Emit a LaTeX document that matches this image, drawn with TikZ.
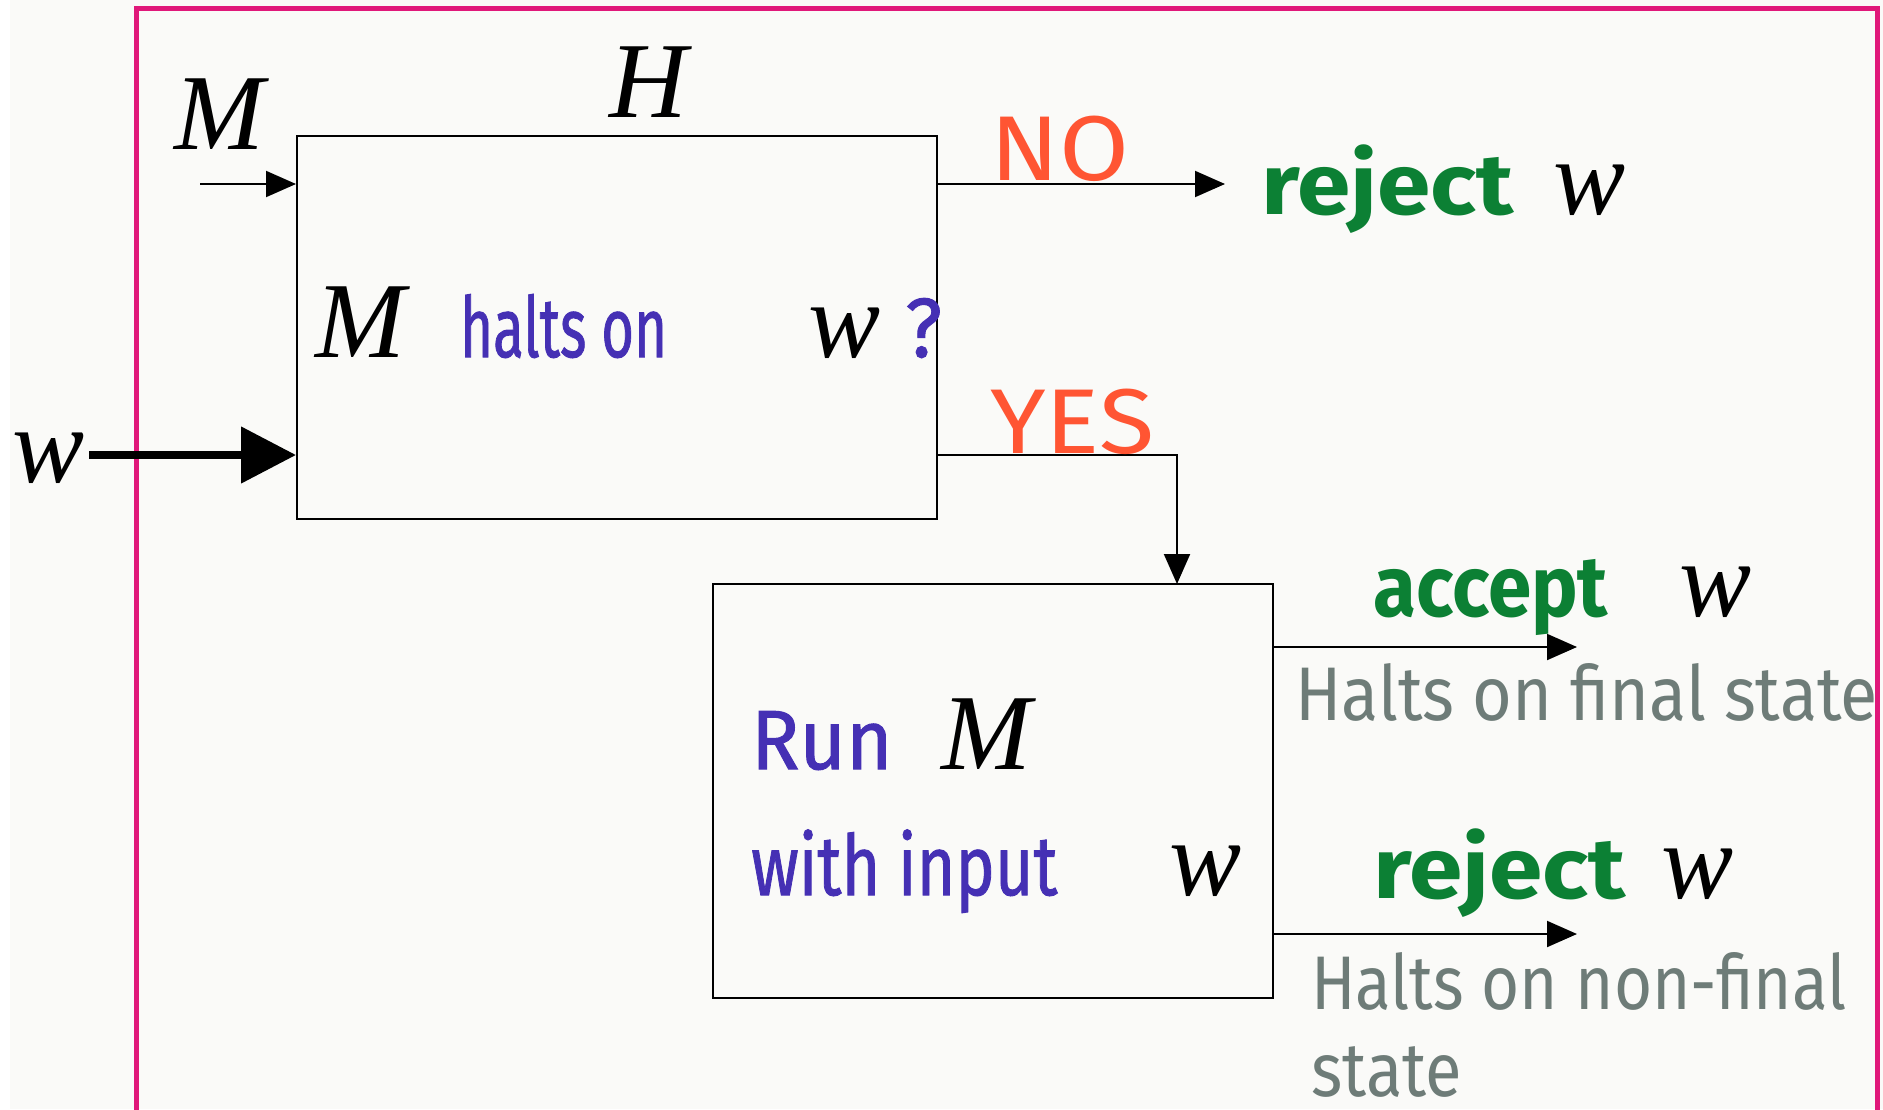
\documentclass[tikz,border=0pt]{standalone}
\usepackage{fontspec}
\usepackage{graphicx}
\setmainfont{Liberation Serif}
\newfontfamily\comicfont{Fira Sans}
\newfontfamily\comicblue{Fira Sans}[FakeBold=1.2]
\newfontfamily\comicgray{Fira Sans}[FakeStretch=0.88]
\newfontfamily\comicbold{Fira Sans Bold}
\usetikzlibrary{arrows.meta}
\definecolor{framepink}{RGB}{224,24,122}
\definecolor{txtblue}{RGB}{69,48,180}
\definecolor{txtorange}{RGB}{255,85,51}
\definecolor{txtgreen}{RGB}{12,128,52}
\definecolor{txtgray}{RGB}{110,124,120}
\definecolor{bgpaper}{RGB}{250,250,248}
\tikzset{
  box/.style={draw=black, line width=2pt, inner sep=0pt},
  arr/.style={line width=2pt, -{Triangle[length=30pt,width=26pt]}},
  bigarr/.style={line width=8pt, -{Triangle[length=55pt,width=55pt]}},
  mathtxt/.style={inner sep=0pt, font=\fontsize{108}{120}\selectfont\itshape},
  bluetxt/.style={inner sep=0pt, text=txtblue, font=\fontsize{84}{96}\comicblue},
  orangetxt/.style={inner sep=0pt, text=txtorange, font=\fontsize{92}{100}\comicfont},
  greentxt/.style={inner sep=0pt, text=txtgreen, font=\fontsize{86}{100}\comicbold},
  graytxt/.style={inner sep=0pt, text=txtgray, font=\fontsize{76}{88}\comicgray, align=left},
}
\begin{document}
\begin{tikzpicture}[x=1pt,y=-1pt]
\useasboundingbox (0,0) rectangle (1883,1109);
\fill[white] (0,0) rectangle (1883,1109);
\fill[bgpaper] (10,0) rectangle (1883,1109);
\draw[framepink, line width=5pt] (136,1115) -- (136,8) -- (1877,8) -- (1877,1115);

% boxes
\node[box, minimum width=640pt, minimum height=383pt] (hbox) at (617,327.5) {};
\node[box, minimum width=560pt, minimum height=414pt] (runbox) at (993,791) {};

% labels outside
\node[mathtxt] (hlabel) at (648,82) {H};
\node[mathtxt] (mlabel) at (219,114) {M};
\node[mathtxt, anchor=base west] (wlabel) at (12,482) {w};

% inputs
\coordinate (mstart) at (200,184);
\draw[arr] (mstart) -- (mstart -| hbox.west);
\coordinate (wstart) at (89,455);
\draw[bigarr] (wstart) -- (wstart -| hbox.west);

% text in H box
\node[mathtxt, anchor=base west] (m1) at (315,357) {M};
\node[bluetxt, anchor=base west] (halts) at (460,357) {\scalebox{0.67}[1]{halts on}};
\node[mathtxt, anchor=base west] (w1) at (808,357) {w};
\node[bluetxt, anchor=base west] (qm) at (905,357) {\scalebox{0.95}[1]{?}};

% NO branch
\coordinate (noend) at (1225,184);
\draw[arr] (noend -| hbox.east) -- (noend);
\node[orangetxt, anchor=base west] (nolabel) at (990,180) {\scalebox{1.1}[1]{NO}};
\node[greentxt, anchor=base west] (rej1) at (1261,214) {\scalebox{1.12}[1]{reject}};
\node[mathtxt, anchor=base west] (rw1) at (1553,214) {w};

% YES branch
\coordinate (ydown) at (1177,584);
\draw[arr] (wstart -| hbox.east) -| (ydown);
\node[orangetxt, anchor=base west] (yeslabel) at (990,453) {\scalebox{1.1}[1]{YES}};

% text in Run box
\node[bluetxt, anchor=base west] (run) at (751,769) {\scalebox{0.95}[1]{Run}};
\node[mathtxt, anchor=base west] (m2) at (941,769) {M};
\node[bluetxt, anchor=base west] (input) at (751,895) {\scalebox{0.79}[1]{with input}};
\node[mathtxt, anchor=base west] (w2) at (1169,895) {w};

% accept
\coordinate (accend) at (1577,647);
\draw[arr] (accend -| runbox.east) -- (accend);
\node[greentxt, anchor=base west] (acc) at (1373,616) {\scalebox{0.91}[1]{accept}};
\node[mathtxt, anchor=base west] (aw) at (1679,616) {w};
\node[graytxt, anchor=base west] (hfinal) at (1295,720) {\scalebox{1.02}[1]{Halts on final state}};

% reject
\coordinate (rejend) at (1577,934);
\draw[arr] (rejend -| runbox.east) -- (rejend);
\node[greentxt, anchor=base west] (rej2) at (1373,898) {\scalebox{1.12}[1]{reject}};
\node[mathtxt, anchor=base west] (rw2) at (1661,898) {w};
\node[graytxt, anchor=base west] (hnon1) at (1311,1009) {\scalebox{0.98}[1]{Halts on non-final}};
\node[graytxt, anchor=base west] (hnon2) at (1311,1096) {state};
\end{tikzpicture}
\end{document}
